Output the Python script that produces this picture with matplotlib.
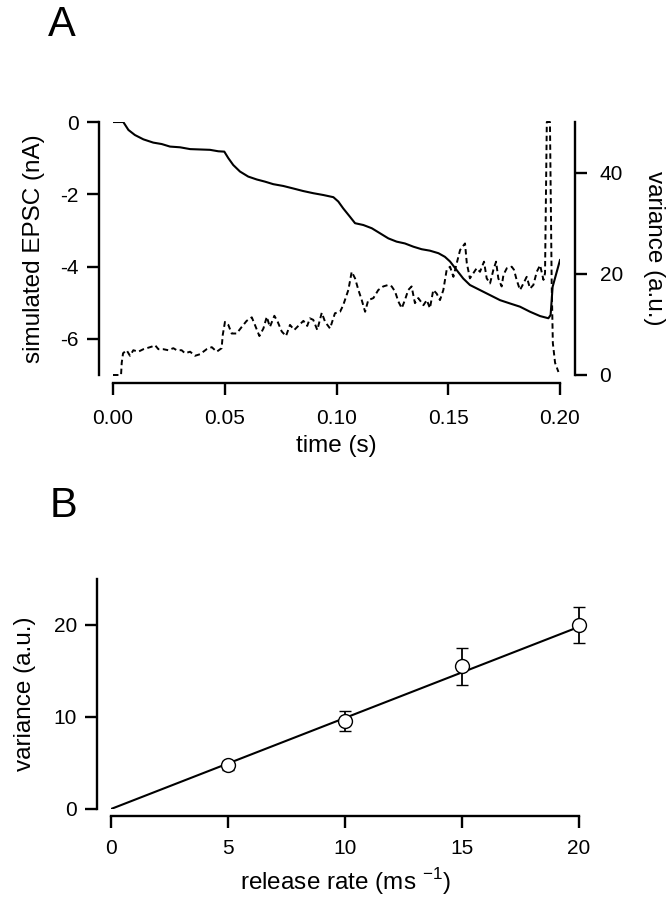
import matplotlib
matplotlib.use("Agg")
import matplotlib.pyplot as plt

plt.rcParams['font.family'] = ['Liberation Sans', 'DejaVu Sans']

# ---------------- Panel A data ----------------
t_epsc = [0.000, 0.0046, 0.0069, 0.0098, 0.0136, 0.018, 0.0218, 0.0255, 0.030, 0.0345,
          0.0389, 0.0434, 0.0471, 0.0498, 0.0516, 0.0538, 0.0568, 0.0605, 0.0643, 0.0680,
          0.0717, 0.0762, 0.0807, 0.0851, 0.0896, 0.0941, 0.0986, 0.1008, 0.1030, 0.1060,
          0.1083, 0.1120, 0.1158, 0.1195, 0.1232, 0.1269, 0.1306, 0.1344, 0.1381, 0.1418,
          0.1456, 0.1485, 0.1508, 0.1538, 0.1567, 0.1597, 0.1642, 0.1687, 0.1732, 0.1776,
          0.1821, 0.1866, 0.1911, 0.1948, 0.1958, 0.1967, 0.200]
epsc = [0.0, 0.0, -0.22, -0.36, -0.48, -0.57, -0.61, -0.68, -0.70, -0.75,
        -0.76, -0.77, -0.81, -0.82, -1.00, -1.19, -1.37, -1.51, -1.59, -1.65,
        -1.72, -1.77, -1.84, -1.91, -1.97, -2.02, -2.08, -2.20, -2.39, -2.62,
        -2.80, -2.85, -2.94, -3.08, -3.22, -3.31, -3.36, -3.45, -3.52, -3.56,
        -3.63, -3.73, -3.86, -4.10, -4.33, -4.51, -4.65, -4.79, -4.93, -5.02,
        -5.11, -5.25, -5.37, -5.43, -5.34, -4.56, -3.82]

t_var = [0.000, 0.0036, 0.0039, 0.0045, 0.0061, 0.0076, 0.0091, 0.0113, 0.0136, 0.0151,
         0.0173, 0.0188, 0.0203, 0.0225, 0.0247, 0.027, 0.0285, 0.0307, 0.0322, 0.0345,
         0.0367, 0.0389, 0.0419, 0.0442, 0.0464, 0.0486, 0.0491, 0.0501, 0.0516, 0.0531,
         0.0553, 0.0576, 0.0598, 0.0621, 0.0635, 0.0655, 0.0673, 0.0688, 0.0702, 0.0722,
         0.0737, 0.0755, 0.0774, 0.0792, 0.0811, 0.0829, 0.0852, 0.0869, 0.0881, 0.0896,
         0.0914, 0.0934, 0.0949, 0.0971, 0.0993, 0.1016, 0.1030, 0.1053, 0.1068, 0.1083,
         0.1098, 0.1113, 0.1128, 0.1142, 0.1165, 0.1187, 0.1209, 0.1232, 0.1247, 0.1262,
         0.1277, 0.1292, 0.1306, 0.1321, 0.1336, 0.1351, 0.1366, 0.1389, 0.1404, 0.1418,
         0.1433, 0.1448, 0.1463, 0.1478, 0.1493, 0.1508, 0.1523, 0.1538, 0.1553, 0.1575,
         0.1583, 0.1597, 0.1612, 0.1627, 0.1642, 0.1660, 0.1672, 0.1687, 0.1702, 0.1714,
         0.1724, 0.1739, 0.1747, 0.1762, 0.1784, 0.1794, 0.1806, 0.1821, 0.1833, 0.1851,
         0.1866, 0.1881, 0.1896, 0.1911, 0.1926, 0.1933, 0.1941, 0.1955, 0.1963, 0.1968,
         0.1978, 0.1993]
variance = [0.0, 0.0, 2.4, 4.3, 4.9, 3.8, 4.9, 4.6, 5.1, 5.3,
            5.6, 5.9, 5.1, 5.1, 4.9, 5.3, 4.9, 4.9, 4.3, 4.6,
            3.8, 4.1, 5.1, 5.5, 4.6, 5.3, 7.9, 10.5, 9.9, 8.2,
            8.2, 9.5, 10.7, 11.4, 9.9, 7.7, 9.2, 11.5, 9.5, 11.7,
            10.5, 8.6, 7.7, 9.9, 8.9, 9.7, 10.7, 9.7, 11.2, 10.9,
            8.9, 12.3, 10.5, 9.2, 12.2, 12.5, 13.8, 16.8, 20.4, 19.1,
            16.8, 14.8, 12.5, 14.8, 15.2, 16.8, 17.5, 17.8, 17.5, 16.5,
            14.5, 13.2, 14.8, 16.8, 17.5, 14.2, 15.2, 13.8, 14.8, 13.2,
            16.8, 16.1, 14.8, 16.8, 20.8, 21.4, 19.4, 22.1, 24.7, 26.0,
            22.1, 19.1, 20.1, 21.1, 20.4, 22.4, 19.1, 18.1, 20.8, 22.4,
            19.1, 17.5, 19.8, 21.1, 21.4, 20.8, 18.8, 16.8, 17.8, 19.4,
            17.1, 17.8, 20.4, 21.7, 18.8, 20.1, 50.0, 50.0, 17.5, 6.3,
            2.4, 0.6]

a_xticks = [0.00, 0.05, 0.10, 0.15, 0.20]
a_xticklabels = ['0.00', '0.05', '0.10', '0.15', '0.20']
a_yticks = [0, -2, -4, -6]
a_y2ticks = [0, 20, 40]

# ---------------- Panel B data ----------------
rate = [5, 10, 15, 20]
var_b = [4.75, 9.6, 15.5, 20.0]
err_b = [0.5, 1.1, 2.05, 1.95]
fit_x = [0, 20]
fit_y = [0, 19.8]
b_xticks = [0, 5, 10, 15, 20]
b_yticks = [0, 10, 20]

W, H = 670, 899
fig = plt.figure(figsize=(W / 100, H / 100), dpi=100)

TICK_FS = 15
LAB_FS = 17.5
SPW = 1.7
LW = 1.5

def fx(px):
    return px / W

def fy(py):
    return 1 - py / H

# ---------------- Panel A ----------------
axA = fig.add_axes([fx(113), fy(375), fx(560) - fx(113), fy(122) - fy(375)])
axA.plot(t_epsc, epsc, color='black', lw=LW)
axA.set_xlim(0, 0.2)
axA.set_ylim(-7, 0)
for s in ['top', 'right']:
    axA.spines[s].set_visible(False)
axA.spines['left'].set_position(('outward', 10))
axA.spines['bottom'].set_position(('outward', 6))
for s in ['left', 'bottom']:
    axA.spines[s].set_linewidth(SPW)
axA.set_xticks(a_xticks)
axA.set_xticklabels(a_xticklabels)
axA.set_yticks(a_yticks)
axA.set_yticklabels([str(v) for v in a_yticks])
axA.tick_params(axis='both', direction='out', length=8.5, width=SPW, labelsize=TICK_FS)
axA.tick_params(axis='y', pad=6)
axA.tick_params(axis='x', pad=10)
axA.set_xlabel('time (s)', fontsize=LAB_FS, labelpad=5)
axA.set_ylabel('simulated EPSC (nA)', fontsize=LAB_FS, labelpad=11)
axA.patch.set_visible(False)

axA2 = axA.twinx()
axA2.plot(t_var, variance, color='black', lw=1.4, dashes=(2.8, 1.8), clip_on=False)
axA2.set_ylim(0, 50)
for s in ['top', 'left', 'bottom']:
    axA2.spines[s].set_visible(False)
axA2.spines['right'].set_position(('outward', 11))
axA2.spines['right'].set_linewidth(SPW)
axA2.set_yticks(a_y2ticks)
axA2.set_yticklabels([str(v) for v in a_y2ticks])
axA2.tick_params(axis='y', direction='out', length=8.5, width=SPW, labelsize=TICK_FS, pad=9)
axA2.set_ylabel('variance (a.u.)', fontsize=LAB_FS, rotation=270, labelpad=30)

fig.text(fx(48), fy(36), 'A', fontsize=30, ha='left', va='baseline')

# ---------------- Panel B ----------------
axB = fig.add_axes([fx(111), fy(809), fx(579) - fx(111), fy(579) - fy(809)])
axB.plot(fit_x, fit_y, color='black', lw=LW)
axB.errorbar(rate, var_b, yerr=err_b, fmt='o', mfc='white', mec='black', ms=10,
             mew=1.0, ecolor='black', elinewidth=1.3, capsize=4, capthick=1.3,
             zorder=3, clip_on=False)
axB.set_xlim(0, 20)
axB.set_ylim(0, 25)
for s in ['top', 'right']:
    axB.spines[s].set_visible(False)
axB.spines['left'].set_position(('outward', 10))
axB.spines['bottom'].set_position(('outward', 5))
for s in ['left', 'bottom']:
    axB.spines[s].set_linewidth(SPW)
axB.set_xticks(b_xticks)
axB.set_xticklabels([str(v) for v in b_xticks])
axB.set_yticks(b_yticks)
axB.set_yticklabels([str(v) for v in b_yticks])
axB.tick_params(axis='both', direction='out', length=8.5, width=SPW, labelsize=TICK_FS)
axB.tick_params(axis='y', pad=6)
axB.tick_params(axis='x', pad=8)
axB.set_xlabel(r'release rate (ms $^{\mathregular{-1}}$)', fontsize=LAB_FS, labelpad=6)
axB.set_ylabel('variance (a.u.)', fontsize=LAB_FS, labelpad=13)
axB.patch.set_visible(False)

fig.text(fx(50), fy(517), 'B', fontsize=30, ha='left', va='baseline')

fig.savefig('out.png', dpi=100)
